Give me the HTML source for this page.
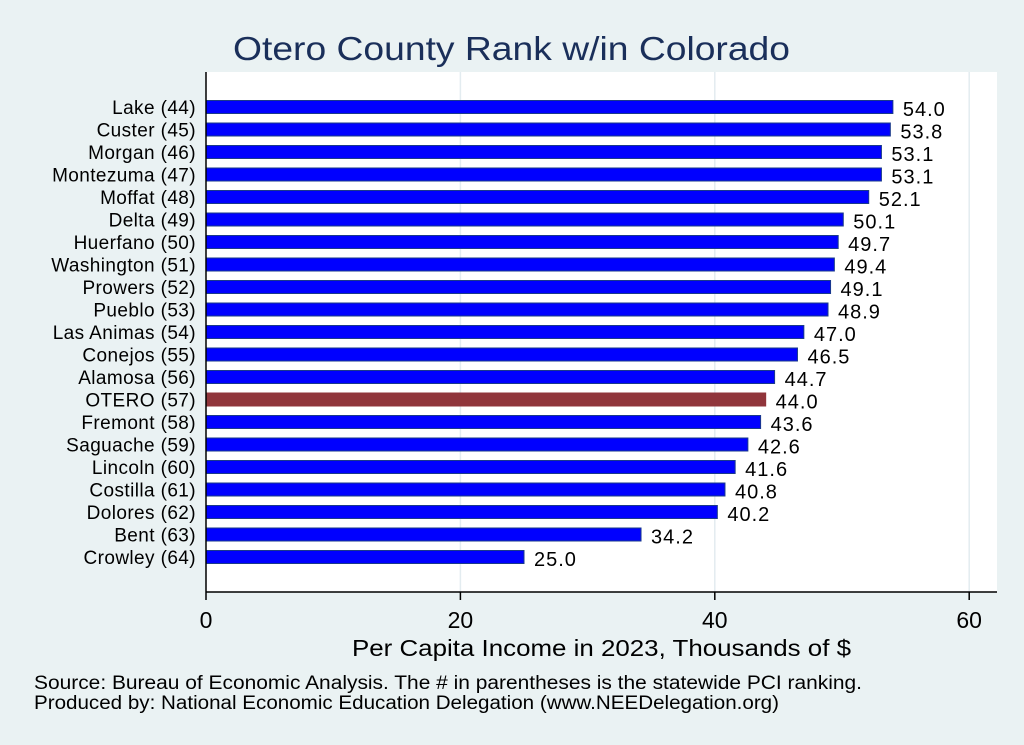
<!DOCTYPE html>
<html><head><meta charset="utf-8"><style>
body{margin:0;background:#eaf2f3;font-family:"Liberation Sans",sans-serif;}
svg{display:block}
</style></head><body>
<svg width="1024" height="745" xmlns="http://www.w3.org/2000/svg">
<rect x="0" y="0" width="1024" height="745" fill="#eaf2f3"/>
<text x="233" y="60" font-size="33" fill="#1a2f5a" textLength="557" lengthAdjust="spacingAndGlyphs">Otero County Rank w/in Colorado</text>
<rect x="206" y="72" width="791" height="520" fill="#fff"/>
<g id="grid"></g>
<g id="bars"></g>
<line x1="206" y1="72" x2="206" y2="592" stroke="#000" stroke-width="1.5"/>
<line x1="206" y1="592" x2="997" y2="592" stroke="#000" stroke-width="1.5"/>
<g id="xticks"></g>
<text x="352" y="656" font-size="23" fill="#000" textLength="499" lengthAdjust="spacingAndGlyphs">Per Capita Income in 2023, Thousands of $</text>
<text x="34" y="689" font-size="19" fill="#000" textLength="828" lengthAdjust="spacingAndGlyphs">Source: Bureau of Economic Analysis. The # in parentheses is the statewide PCI ranking.</text>
<text x="34" y="709" font-size="19" fill="#000" textLength="745" lengthAdjust="spacingAndGlyphs">Produced by: National Economic Education Delegation (www.NEEDelegation.org)</text>
</svg>
<script>
const categories=["Lake (44)","Custer (45)","Morgan (46)","Montezuma (47)","Moffat (48)","Delta (49)","Huerfano (50)","Washington (51)","Prowers (52)","Pueblo (53)","Las Animas (54)","Conejos (55)","Alamosa (56)","OTERO (57)","Fremont (58)","Saguache (59)","Lincoln (60)","Costilla (61)","Dolores (62)","Bent (63)","Crowley (64)"];
const values=[54.0,53.8,53.1,53.1,52.1,50.1,49.7,49.4,49.1,48.9,47.0,46.5,44.7,44.0,43.6,42.6,41.6,40.8,40.2,34.2,25.0];
const highlight="OTERO (57)";
const xTicks=[0,20,40,60];
const NS="http://www.w3.org/2000/svg";
const x=v=>206+v*12.72;
const y=i=>107+i*22.5;
function mk(t,a,p){const e=document.createElementNS(NS,t);for(const k in a)e.setAttribute(k,a[k]);p.appendChild(e);return e;}
const grid=document.getElementById('grid'),bars=document.getElementById('bars'),xt=document.getElementById('xticks');
xTicks.forEach(t=>{
 if(t>0){const g=mk('line',{x1:x(t),x2:x(t),y1:72,y2:592,stroke:'#e3ecf0','stroke-width':1.5},grid);
 
 }
 const l=mk('line',{x1:x(t),x2:x(t),y1:592,y2:600,stroke:'#000','stroke-width':1.5},xt);
 
 
 const tx=mk('text',{x:x(t),y:628,'text-anchor':'middle','font-size':23},xt);tx.textContent=t;
 
 
});
categories.forEach((c,i)=>{
 const hi=c===highlight;
 const r=mk('rect',{x:206,y:y(i)-6.5,width:x(values[i])-206,height:13,fill:hi?'#90353b':'#0000ff',stroke:hi?'#90353b':'#1a3a8a','stroke-width':1},bars);
 
 
 const lb=mk('text',{x:196,y:y(i)+7,'text-anchor':'end','font-size':19,'letter-spacing':0.4},bars);lb.textContent=c;
 
 
 const vl=mk('text',{x:x(values[i])+10,y:y(i)+9,'font-size':20,'letter-spacing':1},bars);vl.textContent=values[i].toFixed(1);
 
 
});
</script>
</body></html>
